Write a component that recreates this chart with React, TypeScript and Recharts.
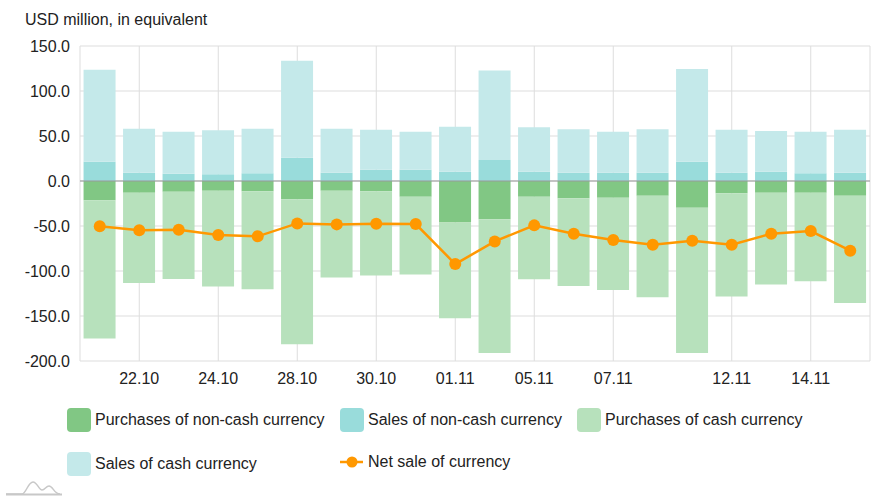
import React from "react";
import {
  ComposedChart,
  Bar,
  Line,
  XAxis,
  YAxis,
  CartesianGrid,
  ReferenceLine,
} from "recharts";

// trading days (dd.mm)
const dates = [
  "21.10", "22.10", "23.10", "24.10", "25.10",
  "28.10", "29.10", "30.10", "31.10", "01.11",
  "04.11", "05.11", "06.11", "07.11", "08.11",
  "11.11", "12.11", "13.11", "14.11", "15.11",
];

// USD million
const salesNonCash = [
  21.4, 9.2, 8.1, 7.4, 8.5, 25.9, 9.2, 12.6, 12.6, 10.3,
  23.3, 10.3, 9.2, 9.2, 9.2, 21.4, 9.2, 10.3, 8.5, 9.2,
];
const salesCash = [
  102.3, 48.9, 46.7, 48.9, 49.6, 107.8, 48.9, 44.4, 42.2, 50.0,
  99.6, 49.3, 48.2, 45.6, 48.2, 103.0, 47.8, 45.3, 46.3, 47.8,
];
const purchasesNonCash = [
  -21.5, -13.0, -11.9, -10.8, -11.5, -20.4, -10.8, -11.5, -17.4, -46.0,
  -42.6, -17.4, -19.3, -18.5, -16.3, -29.7, -13.7, -13.0, -13.0, -16.3,
];
const purchasesCash = [
  -153.4, -100.4, -97.0, -106.3, -108.9, -161.1, -96.3, -93.4, -86.4, -106.6,
  -148.5, -91.9, -97.4, -102.6, -113.0, -161.4, -114.5, -101.9, -98.5, -119.3,
];
const netSale = [
  -50.4, -54.8, -54.1, -60.0, -61.5, -47.1, -48.2, -47.4, -47.8, -92.3,
  -67.1, -49.3, -58.6, -65.6, -70.8, -66.3, -70.8, -58.6, -55.6, -77.4,
];

const xTicks = ["22.10", "24.10", "28.10", "30.10", "01.11", "05.11", "07.11", "12.11", "14.11"];
const yTicks = [-200, -150, -100, -50, 0, 50, 100, 150];

const C_PURCH_NONCASH = "#81c784";
const C_SALES_NONCASH = "#99dcdb";
const C_PURCH_CASH = "#b7e1bc";
const C_SALES_CASH = "#c4e9ea";
const C_NET = "#ff9800";

const chartData = dates.map((d, i) => ({
  date: d,
  salesNonCash: salesNonCash[i],
  salesCash: salesCash[i],
  purchasesNonCash: purchasesNonCash[i],
  purchasesCash: purchasesCash[i],
  net: netSale[i],
}));

const legendItems = [
  { label: "Purchases of non-cash currency", color: C_PURCH_NONCASH, x: 67, y: 408 },
  { label: "Sales of non-cash currency", color: C_SALES_NONCASH, x: 340, y: 408 },
  { label: "Purchases of cash currency", color: C_PURCH_CASH, x: 577, y: 408 },
  { label: "Sales of cash currency", color: C_SALES_CASH, x: 67, y: 452 },
];

const font = '"Liberation Sans", Arial, sans-serif';

export default function App() {
  return (
    <div
      style={{
        position: "absolute",
        left: 0,
        top: 0,
        width: 891,
        height: 500,
        background: "#fff",
        fontFamily: font,
        color: "#222",
      }}
    >
      <div style={{ position: "absolute", left: 25, top: 11, fontSize: 16 }}>
        USD million, in equivalent
      </div>

      <ComposedChart
        width={891}
        height={400}
        data={chartData}
        stackOffset="sign"
        barCategoryGap="9%"
        margin={{ top: 46, right: 21, left: 0, bottom: 0 }}
      >
        <CartesianGrid stroke="#dddddd" />
        <XAxis
          dataKey="date"
          ticks={xTicks}
          interval={0}
          height={39}
          axisLine={false}
          tickLine={false}
          tickMargin={6}
          tick={{ fill: "#222", fontSize: 16, fontFamily: font }}
        />
        <YAxis
          width={80}
          domain={[-200, 150]}
          ticks={yTicks}
          axisLine={false}
          tickLine={false}
          tickMargin={4}
          tickFormatter={(v: number) => v.toFixed(1)}
          tick={{ fill: "#222", fontSize: 16, fontFamily: font }}
        />
        <Bar dataKey="salesNonCash" stackId="a" fill={C_SALES_NONCASH} isAnimationActive={false} />
        <Bar dataKey="salesCash" stackId="a" fill={C_SALES_CASH} isAnimationActive={false} />
        <Bar dataKey="purchasesNonCash" stackId="a" fill={C_PURCH_NONCASH} isAnimationActive={false} />
        <Bar dataKey="purchasesCash" stackId="a" fill={C_PURCH_CASH} isAnimationActive={false} />
        <ReferenceLine y={0} stroke="#999999" strokeWidth={1} />
        <Line
          dataKey="net"
          stroke={C_NET}
          strokeWidth={2.5}
          dot={{ r: 6, fill: C_NET, stroke: C_NET, strokeWidth: 0 }}
          activeDot={false}
          isAnimationActive={false}
        />
      </ComposedChart>

      {legendItems.map((item) => (
        <div
          key={item.label}
          style={{
            position: "absolute",
            left: item.x,
            top: item.y,
            display: "flex",
            alignItems: "center",
            height: 24,
            fontSize: 16,
          }}
        >
          <span
            style={{
              width: 24,
              height: 24,
              borderRadius: 4,
              background: item.color,
              marginRight: 4,
              display: "inline-block",
            }}
          />
          {item.label}
        </div>
      ))}
      <div
        style={{
          position: "absolute",
          left: 340,
          top: 450,
          display: "flex",
          alignItems: "center",
          height: 24,
          fontSize: 16,
        }}
      >
        <svg width={24} height={24} style={{ marginRight: 4 }}>
          <line x1={0} y1={12} x2={23} y2={12} stroke={C_NET} strokeWidth={2.5} />
          <circle cx={12} cy={12} r={5.5} fill={C_NET} />
        </svg>
        Net sale of currency
      </div>

      {/* small watermark logo */}
      <svg
        width={64}
        height={20}
        style={{ position: "absolute", left: 4, top: 478 }}
      >
        <path
          d="M2 16 L18 16 C22 16 24 4 29 4 C33 4 35 12 38 12 C41 12 42 8 45 8 C49 8 50 16 56 16"
          fill="none"
          stroke="#c8c8c8"
          strokeWidth={1.5}
        />
        <line x1={2} y1={16.5} x2={58} y2={16.5} stroke="#c8c8c8" strokeWidth={2} />
      </svg>
    </div>
  );
}
